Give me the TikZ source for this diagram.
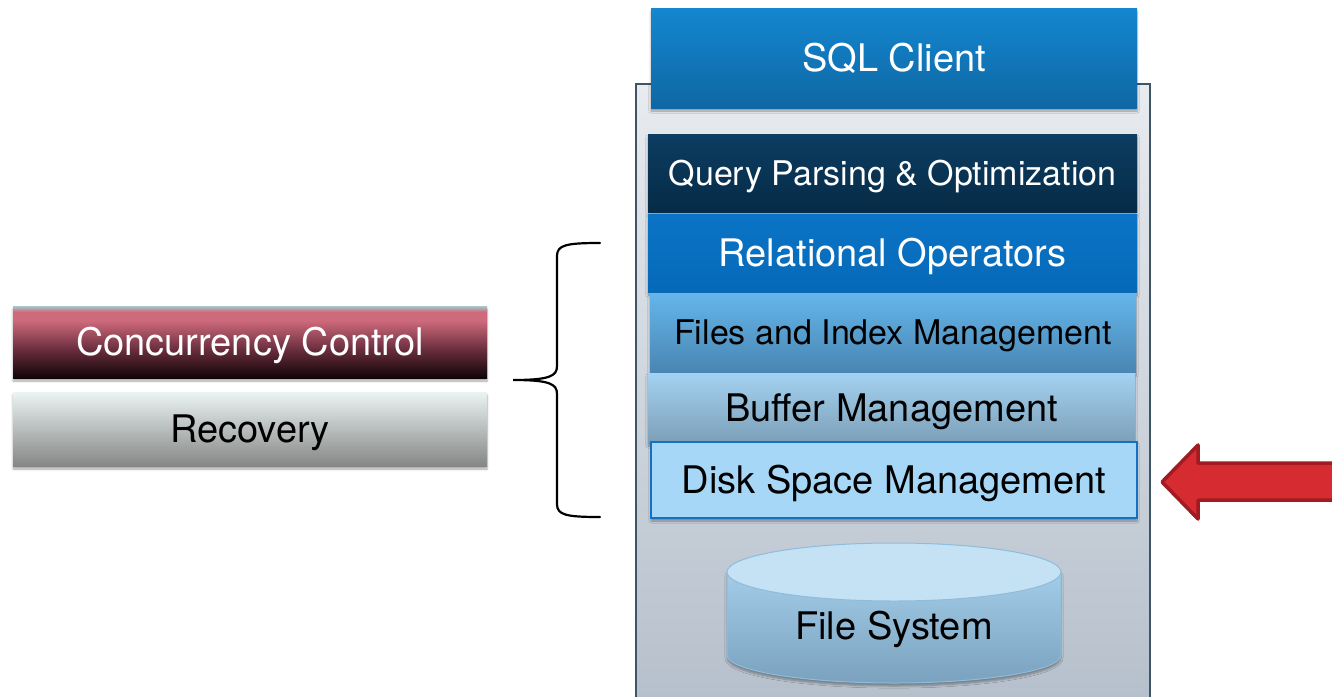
\documentclass[tikz,border=0pt]{standalone}
\usepackage{fontspec}
\setmainfont{TeX Gyre Heros}
\usetikzlibrary{shadows.blur}
\definecolor{contTop}{HTML}{E8EBEF}
\definecolor{contBot}{HTML}{B6C0CC}
\definecolor{contLine}{HTML}{3E5467}
\definecolor{sqlTop}{HTML}{1387D0}
\definecolor{sqlBot}{HTML}{0F67A4}
\definecolor{qTop}{HTML}{0C3D62}
\definecolor{qBot}{HTML}{062B46}
\definecolor{relTop}{HTML}{0B74C6}
\definecolor{relBot}{HTML}{0669B8}
\definecolor{fiTop}{HTML}{65B6EA}
\definecolor{fiBot}{HTML}{4986B3}
\definecolor{bufTop}{HTML}{A4D2F1}
\definecolor{bufBot}{HTML}{7C9FB8}
\definecolor{diskFill}{HTML}{A6D7F6}
\definecolor{diskLine}{HTML}{1271C2}
\definecolor{cylTopC}{HTML}{C5E1F4}
\definecolor{cylBodyTop}{HTML}{A3CCE8}
\definecolor{cylBodyBot}{HTML}{7AA2BF}
\definecolor{cylLine}{HTML}{8CBDDD}
\definecolor{ccTeal}{HTML}{A6CACA}
\definecolor{ccPink}{HTML}{CE6A7C}
\definecolor{ccMid}{HTML}{6A2E3E}
\definecolor{ccBot}{HTML}{110407}
\definecolor{recTop}{HTML}{EAF4F3}
\definecolor{recBot}{HTML}{868686}
\definecolor{arrFill}{HTML}{D62B30}
\definecolor{arrLine}{HTML}{A01C22}
\pgfdeclareverticalshading{ccshade}{100bp}{color(0bp)=(ccBot); color(25bp)=(ccBot); color(45bp)=(ccMid); color(65bp)=(ccPink); color(71bp)=(ccPink); color(75bp)=(ccTeal); color(100bp)=(ccTeal)}
\tikzset{
  shad/.style={blur shadow={shadow xshift=0pt, shadow yshift=-3pt, shadow blur steps=6, shadow opacity=35}},
  bigtxt/.style={font=\fontsize{38}{40}\selectfont, text height=27.3pt, text depth=0pt},
  smalltxt/.style={font=\fontsize{34}{36}\selectfont, text height=24.4pt, text depth=0pt},
  layer/.style={rectangle, inner sep=0pt, minimum height=#1, bigtxt, shad},
  side/.style={rectangle, inner sep=0pt, minimum width=474pt, minimum height=72pt, bigtxt, shad},
}
\begin{document}
\begin{tikzpicture}[x=1pt,y=-1pt]
\useasboundingbox (0,0) rectangle (1332,696);
% container
\fill[top color=contTop, bottom color=contBot] (636,84) rectangle (1150,700);
\draw[contLine, line width=1.6pt] (636,700) -- (636,84) -- (1150,84) -- (1150,700);
% layers
\node[layer=100pt, minimum width=486pt, top color=sqlTop, bottom color=sqlBot, text=white] (sql) at (894,58) {SQL Client};
\node[layer=78pt, minimum width=489pt, top color=qTop, bottom color=qBot, text=white, smalltxt] (qp) at (892.5,173) {Query Parsing \& Optimization};
\node[layer=78pt, minimum width=489pt, top color=relTop, bottom color=relBot, text=white] (rel) at (892.5,253) {Relational Operators};
\node[layer=79pt, minimum width=486pt, top color=fiTop, bottom color=fiBot, text=black, smalltxt] (fim) at (893,332.5) {Files and Index Management};
\node[layer=70pt, minimum width=487pt, top color=bufTop, bottom color=bufBot, text=black] (buf) at (891.5,408) {Buffer Management};
\node[layer=76pt, minimum width=486pt, fill=diskFill, draw=diskLine, line width=1.6pt, text=black] (disk) at (894,480) {Disk Space Management};
% cylinder
\path[top color=cylBodyTop, bottom color=cylBodyBot, draw=cylLine, line width=1pt, shad]
  (727,572) -- (727,655) .. controls (727,670.5) and (801.8,683) .. (894,683)
  .. controls (986.2,683) and (1061,670.5) .. (1061,655) -- (1061,572) -- cycle;
\fill[cylTopC, draw=cylLine, line width=1pt] (894,572) ellipse [x radius=167pt, y radius=29pt];
\node[bigtxt, text=black] (fs) at (894,626) {File System};
% side boxes
\node[side, shading=ccshade, text=white] (cc) at (250,342) {Concurrency Control};
\node[side, minimum height=74pt, top color=recTop, bottom color=recBot, text=black] (rec) at (250,429) {Recovery};
% brace
\coordinate (btop) at (600,243);
\coordinate (bbot) at (600,517);
\coordinate (btip) at (513,380);
\draw[line width=2.2pt, line cap=round]
  (btop) .. controls (566,243) and (557,245) .. (557,256) -- (557,366)
  .. controls (557,376) and (550,380) .. (btip)
  .. controls (550,380) and (557,384) .. (557,394) -- (557,504)
  .. controls (557,515) and (566,517) .. (bbot);
% red arrow
\draw[fill=arrFill, draw=arrLine, line width=3.5pt, line join=round]
  (1340,463) -- (1198,463) -- (1198,445) -- (1162,482) -- (1198,519) -- (1198,500) -- (1340,500);
\end{tikzpicture}
\end{document}
